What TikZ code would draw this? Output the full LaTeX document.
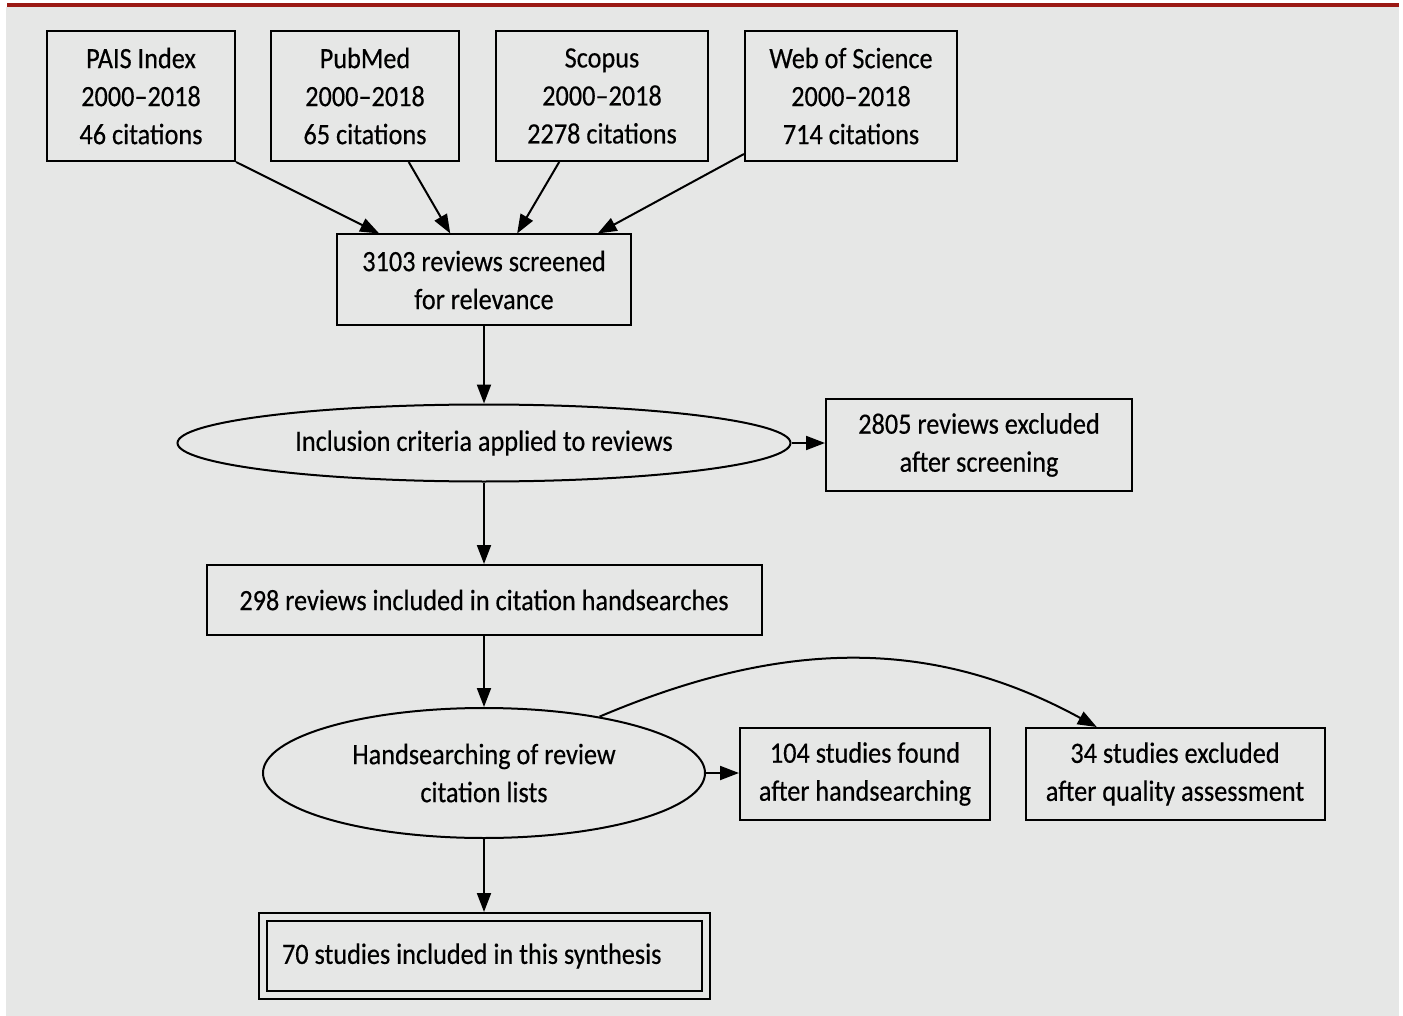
\documentclass[tikz,border=0pt]{standalone}
\usepackage{fontspec}
\setmainfont[FakeStretch=0.89, FakeBold=0.4]{Carlito}
\usepackage{tikz}
\usetikzlibrary{positioning, calc, arrows.meta, shapes.geometric}
\definecolor{bggray}{RGB}{230,231,230}
\definecolor{topred}{RGB}{155,25,20}
\tikzset{
  box/.style={draw, line width=2, rectangle, inner sep=0, align=center,
    font=\fontsize{29.5}{38}\selectfont},
  oval/.style={draw, line width=2, ellipse, inner sep=0, align=center,
    font=\fontsize{29.5}{38}\selectfont},
}
\begin{document}
\begin{tikzpicture}[x=1pt, y=-1pt, line width=2,
    >={Triangle[length=19,width=14]}]
        \useasboundingbox (0,0) rectangle (1403,1016);
        \fill[bggray] (6,7) rectangle (1399,1016);
        \draw[topred, line width=4] (7,5) -- (1399,5);
        % nodes
        \node[box, minimum width=188, minimum height=130] (pais)   at (141, 96) {PAIS Index\\2000--2018\\46 citations};
        \node[box, minimum width=188, minimum height=130] (pubmed) at (365, 96) {PubMed\\2000--2018\\65 citations};
        \node[box, minimum width=212, minimum height=130] (scopus) at (602, 96) {Scopus\\2000--2018\\2278 citations};
        \node[box, minimum width=212, minimum height=130] (wos)    at (851, 96) {Web of Science\\2000--2018\\714 citations};
        \node[box, minimum width=294, minimum height=91]  (screened) at (484, 280) {3103 reviews screened\\for relevance};
        \node[oval, minimum width=613, minimum height=77] (criteria) at (484, 443) {Inclusion criteria applied to reviews};
        \node[box, minimum width=306, minimum height=92]  (excl1)  at (979, 445) {2805 reviews excluded\\after screening};
        \node[box, minimum width=555, minimum height=70]  (incl)   at (484, 600) {298 reviews included in citation handsearches};
        \node[oval, minimum width=442, minimum height=130] (hand)  at (484, 773) {Handsearching of review\\citation lists};
        \node[box, minimum width=250, minimum height=92]  (found)  at (865, 774) {104 studies found\\after handsearching};
        \node[box, minimum width=299, minimum height=92]  (excl2)  at (1175, 774) {34 studies excluded\\after quality assessment};
        \node[box, double=bggray, double distance=6, outer sep=5, inner xsep=19.5,
              text width=404, align=flush left,
              minimum width=443, minimum height=78]        (final)  at (484, 956) {70 studies included in this synthesis};
        % arrows
        \draw[->] (pais.south east) -- ($(screened.north west)!0.146!(screened.north east)$);
        \draw[->] ($(pubmed.south west)!0.73!(pubmed.south east)$) -- ($(screened.north west)!0.386!(screened.north east)$);
        \draw[->] ($(scopus.south west)!0.30!(scopus.south east)$) -- ($(screened.north west)!0.612!(screened.north east)$);
        \draw[->] ($(wos.south west)+(0,-8)$) -- ($(screened.north west)!0.884!(screened.north east)$);
        \draw[->] (screened) -- (criteria);
        \draw[->] (criteria) -- (excl1.west |- criteria);
        \draw[->] (criteria) -- (incl);
        \draw[->] (incl) -- (hand);
        \draw[->] (hand) -- (found.west |- hand);
        \draw[->] (hand.26) .. controls +(179,-76) and +(-168,-92) .. ($(excl2.north west)!0.24!(excl2.north east)$);
        \draw[->] (hand) -- (final);
\end{tikzpicture}
\end{document}
